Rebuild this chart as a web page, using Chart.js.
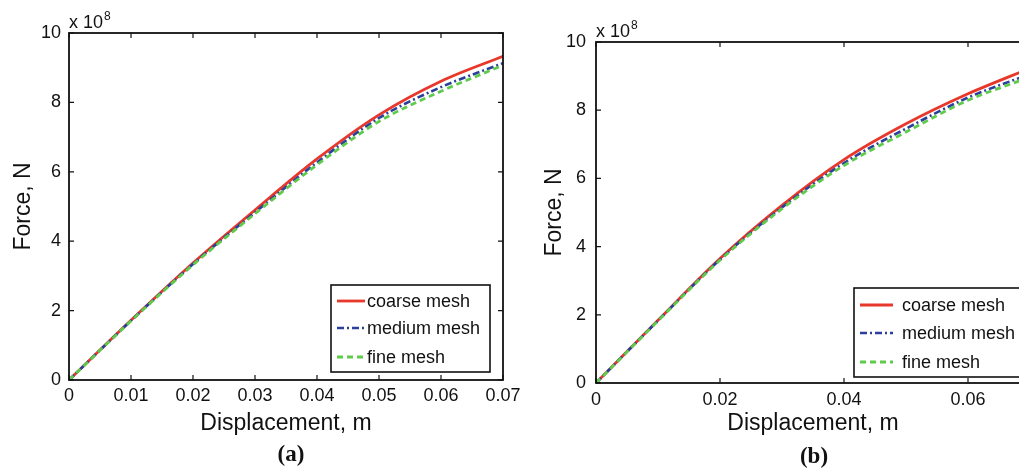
<!DOCTYPE html>
<html>
<head>
<meta charset="utf-8">
<script src="https://cdn.jsdelivr.net/npm/chart.js@4.4.0/dist/chart.umd.min.js"></script>
<style>
  html, body { margin: 0; padding: 0; background: #fff; overflow: hidden; }
  #wrap { position: relative; width: 1019px; height: 469px; overflow: hidden; }
  .panel { position: absolute; top: 0; height: 469px; }
  #panelA { left: 0; width: 520px; }
  #panelB { left: 520px; width: 530px; }
  .tag { position: absolute; font: bold 23px "Liberation Serif", "DejaVu Serif", serif; color: #111; transform: translateX(-50%); }
</style>
</head>
<body>
<div id="wrap">
  <div class="panel" id="panelA"><canvas id="chartA"></canvas></div>
  <div class="panel" id="panelB"><canvas id="chartB"></canvas></div>
  <div class="tag" style="left:291px; top:441px">(a)</div>
  <div class="tag" style="left:814px; top:443px">(b)</div>
</div>
<script>
// displacement, m
const displacement = [0, 0.01, 0.02, 0.03, 0.04, 0.05, 0.06, 0.07];

// force in units of 1e8 N, panel (a)
const coarseA = [0, 1.72, 3.37, 4.90, 6.37, 7.64, 8.61, 9.33];
const mediumA = [0, 1.71, 3.34, 4.83, 6.27, 7.55, 8.44, 9.13];
const fineA   = [0, 1.70, 3.32, 4.79, 6.20, 7.45, 8.32, 9.07];

// panel (b)
const coarseB = [0, 1.84, 3.65, 5.21, 6.55, 7.60, 8.48, 9.23];
const mediumB = [0, 1.83, 3.62, 5.15, 6.45, 7.46, 8.37, 9.06];
const fineB   = [0, 1.82, 3.60, 5.11, 6.38, 7.36, 8.29, 8.97];

const xTicksA = [0, 0.01, 0.02, 0.03, 0.04, 0.05, 0.06, 0.07];
const xTicksB = [0, 0.02, 0.04, 0.06];
const yTicks = [0, 2, 4, 6, 8, 10];
const seriesNames = ['coarse mesh', 'medium mesh', 'fine mesh'];

const FONT = '"Liberation Sans", Arial, Helvetica, sans-serif';
const INK = '#111';

// box around the axes, inward ticks on all four sides, and the x 10^8 note
const frameTicks = {
    id: 'frameTicks',
    afterDatasetsDraw(chart) {
        const { ctx, chartArea: a, scales: { x, y } } = chart;
        ctx.save();
        ctx.strokeStyle = INK;
        ctx.lineWidth = 1.2;
        ctx.beginPath();
        x.ticks.forEach(t => {
            const px = x.getPixelForValue(t.value);
            ctx.moveTo(px, a.bottom); ctx.lineTo(px, a.bottom - 5);
            ctx.moveTo(px, a.top); ctx.lineTo(px, a.top + 5);
        });
        y.ticks.forEach(t => {
            const py = y.getPixelForValue(t.value);
            ctx.moveTo(a.left, py); ctx.lineTo(a.left + 5, py);
            ctx.moveTo(a.right, py); ctx.lineTo(a.right - 5, py);
        });
        ctx.stroke();
        ctx.lineWidth = 1.8;
        ctx.strokeRect(a.left, a.top, a.right - a.left, a.bottom - a.top);

        ctx.fillStyle = INK;
        ctx.textBaseline = 'alphabetic';
        ctx.textAlign = 'left';
        ctx.font = '18px ' + FONT;
        ctx.fillText('x 10', a.left, a.top - 5);
        const w = ctx.measureText('x 10').width;
        ctx.font = '12px ' + FONT;
        ctx.fillText('8', a.left + w + 1, a.top - 13);
        ctx.restore();
    }
};

// legend box drawn inside the plot, lower right
const boxLegend = {
    id: 'boxLegend',
    afterDraw(chart, args, o) {
        const { ctx, chartArea: a } = chart;
        const left = a.right - o.right - o.width;
        const top = a.bottom - o.bottom - o.height;
        ctx.save();
        ctx.fillStyle = '#fff';
        ctx.fillRect(left, top, o.width, o.height);
        ctx.strokeStyle = INK;
        ctx.lineWidth = 1.6;
        ctx.strokeRect(left, top, o.width, o.height);
        ctx.font = '18px ' + FONT;
        ctx.textBaseline = 'middle';
        chart.data.datasets.forEach((ds, i) => {
            const yy = top + o.rows[i];
            ctx.strokeStyle = ds.borderColor;
            ctx.lineWidth = ds.borderWidth;
            ctx.setLineDash(ds.borderDash || []);
            ctx.beginPath();
            ctx.moveTo(left + o.sampleX, yy);
            ctx.lineTo(left + o.sampleX + o.sampleLen, yy);
            ctx.stroke();
            ctx.setLineDash([]);
            ctx.fillStyle = INK;
            ctx.fillText(ds.label, left + o.sampleX + o.sampleLen + o.gap, yy + 1);
        });
        ctx.restore();
    }
};

function series(xs, ys) {
    return xs.map((v, i) => ({ x: v, y: ys[i] }));
}

function makeDatasets(c, m, f) {
    return [
        { label: seriesNames[0], data: series(displacement, c), borderColor: '#e8372b', borderWidth: 2.8, order: 3 },
        { label: seriesNames[1], data: series(displacement, m), borderColor: '#2c3f9c', borderWidth: 2.6, borderDash: [7, 3, 2, 3], order: 2 },
        { label: seriesNames[2], data: series(displacement, f), borderColor: '#5fcb4b', borderWidth: 2.8, borderDash: [6, 4], order: 1 }
    ].map(d => Object.assign(d, { pointRadius: 0, fill: false, cubicInterpolationMode: 'monotone' }));
}

function makeChart(id, sets, xTicks, lay) {
    const ctx = document.getElementById(id).getContext('2d');
    return new Chart(ctx, {
        type: 'line',
        data: { datasets: sets },
        options: {
            responsive: true,
            maintainAspectRatio: false,
            animation: false,
            layout: { padding: { top: lay.top, right: lay.right, left: 0, bottom: 0 } },
            plugins: {
                legend: { display: false },
                tooltip: { enabled: false },
                boxLegend: lay.legend
            },
            scales: {
                x: {
                    type: 'linear',
                    min: 0,
                    max: 0.07,
                    afterBuildTicks: s => { s.ticks = xTicks.map(v => ({ value: v })); },
                    afterFit: s => { s.height = lay.xHeight; s.paddingLeft = 0; s.paddingRight = 0; },
                    grid: { display: false, drawTicks: false, tickLength: 0 },
                    border: { display: false },
                    ticks: { color: INK, font: { family: FONT, size: 18 }, padding: lay.xTickPad, maxRotation: 0, autoSkip: false, callback: v => String(v) },
                    title: { display: true, text: 'Displacement, m', color: INK, font: { family: FONT, size: 23 }, padding: { top: 0, bottom: 32 } }
                },
                y: {
                    type: 'linear',
                    min: 0,
                    max: 10,
                    afterBuildTicks: s => { s.ticks = yTicks.map(v => ({ value: v })); },
                    afterFit: s => { s.width = lay.yWidth; },
                    grid: { display: false, drawTicks: false, tickLength: 0 },
                    border: { display: false },
                    ticks: { color: INK, font: { family: FONT, size: 18 }, padding: lay.yTickPad, callback: v => String(v) },
                    title: { display: true, text: 'Force, N', color: INK, font: { family: FONT, size: 23 }, padding: { top: lay.yTitlePad, bottom: lay.yTitlePad } }
                }
            }
        },
        plugins: [frameTicks, boxLegend]
    });
}

document.addEventListener('DOMContentLoaded', () => {
    makeChart('chartA', makeDatasets(coarseA, mediumA, fineA), xTicksA, {
        top: 33, right: 17, yWidth: 69, xHeight: 89, xTickPad: 5, yTickPad: 8, yTitlePad: 10,
        legend: { right: 13, bottom: 8, width: 159, height: 87, rows: [16, 43, 72], sampleX: 6, sampleLen: 28, gap: 2 }
    });
    makeChart('chartB', makeDatasets(coarseB, mediumB, fineB), xTicksB, {
        top: 42, right: 20, yWidth: 76, xHeight: 86, xTickPad: 6, yTickPad: 10, yTitlePad: 21,
        legend: { right: 4, bottom: 6, width: 172, height: 89, rows: [17, 45, 74], sampleX: 6, sampleLen: 33, gap: 9 }
    });
});
</script>
</body>
</html>
